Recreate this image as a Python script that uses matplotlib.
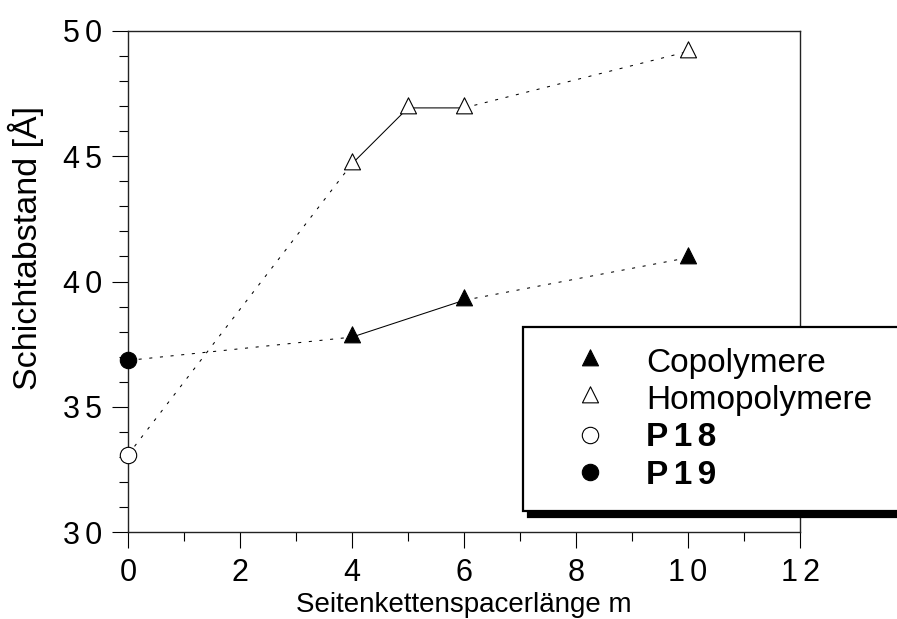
import matplotlib
matplotlib.use("Agg")
import matplotlib.pyplot as plt
from matplotlib.lines import Line2D
from matplotlib.path import Path

plt.rcParams['font.family'] = ['Liberation Sans', 'DejaVu Sans']
plt.rcParams['lines.scale_dashes'] = False

# Side-chain spacer length m and measured layer spacing (Å)
copo_m = [4, 6, 10]
copo_d = [37.78, 39.25, 40.95]
homo_m = [4, 5, 6, 10]
homo_d = [44.7, 46.93, 46.93, 49.18]
p18_m = [0]
p18_d = [33.08]
p19_m = [0]
p19_d = [36.85]

x_ticks = [0, 2, 4, 6, 8, 10, 12]
y_ticks = [30, 35, 40, 45, 50]
legend_labels = ['Copolymere', 'Homopolymere', 'P18', 'P19']

SP = '\u2006'


def spaced(s):
    return SP.join(s)


# triangle centred on its centroid
tri = Path([(0, 2 / 3), (-0.5, -1 / 3), (0.5, -1 / 3), (0, 2 / 3)],
           [Path.MOVETO, Path.LINETO, Path.LINETO, Path.CLOSEPOLY])

W, H = 897, 619
fig = plt.figure(figsize=(W / 100, H / 100), dpi=100)
ax = fig.add_axes([128 / W, 1 - 532 / H, 672 / W, 501 / H])

lw = 0.75
dash = (0, (2.2, 5.5))
k = 'black'

# connecting lines
ax.plot(copo_m[:2], copo_d[:2], '-', color=k, lw=lw, zorder=2)
ax.plot(copo_m[1:], copo_d[1:], linestyle=dash, color=k, lw=lw, zorder=2)
ax.plot(homo_m[:3], homo_d[:3], '-', color=k, lw=lw, zorder=2)
ax.plot(homo_m[2:], homo_d[2:], linestyle=dash, color=k, lw=lw, zorder=2)
ax.plot([p19_m[0], copo_m[0]], [p19_d[0], copo_d[0]], linestyle=dash,
        color=k, lw=lw, zorder=2)
ax.plot([p18_m[0], homo_m[0]], [p18_d[0], homo_d[0]], linestyle=dash,
        color=k, lw=lw, zorder=2)

tri_ms = 15.4
circ_ms = 11.8
mk = dict(ls='none', clip_on=False, zorder=4, mew=0.8, mec=k)
ax.plot(copo_m, copo_d, marker=tri, ms=tri_ms, mfc=k, **mk)
ax.plot(homo_m, homo_d, marker=tri, ms=tri_ms, mfc='white', **mk)
ax.plot(p18_m, p18_d, marker='o', ms=circ_ms, mfc='white', **mk)
ax.plot(p19_m, p19_d, marker='o', ms=circ_ms, mfc=k, **mk)

ax.set_xlim(0, 12)
ax.set_ylim(30, 50)
ax.set_xticks(x_ticks)
ax.set_xticklabels([spaced(str(t)) for t in x_ticks])
ax.set_yticks(y_ticks)
ax.set_yticklabels([spaced(str(t)) for t in y_ticks])
ax.set_xticks(range(1, 12, 2), minor=True)
ax.set_yticks([v for v in range(30, 51) if v % 5], minor=True)

ax.tick_params(which='major', direction='out', length=11.5, width=0.8,
               labelsize=22, pad=7, top=False, right=False)
ax.tick_params(which='minor', direction='out', length=6.5, width=0.8,
               top=False, right=False)
for s in ax.spines.values():
    s.set_linewidth(1.0)
    s.set_color('#222222')

ax.set_ylabel('Schichtabstand [Å]', fontsize=24.5)
ax.yaxis.set_label_coords(-0.125, 0.566)
ax.set_xlabel('Seitenkettenspacerlänge m', fontsize=20, va='baseline')
ax.xaxis.set_label_coords(0.5, -0.1597)

handles = [
    Line2D([], [], ls='none', marker=tri, ms=tri_ms, mfc=k, mec=k, mew=0.8),
    Line2D([], [], ls='none', marker=tri, ms=tri_ms, mfc='white', mec=k, mew=0.8),
    Line2D([], [], ls='none', marker='o', ms=circ_ms, mfc='white', mec=k, mew=0.8),
    Line2D([], [], ls='none', marker='o', ms=circ_ms, mfc=k, mec=k, mew=0.8),
]
labels = [legend_labels[0], legend_labels[1],
          spaced(legend_labels[2]), spaced(legend_labels[3])]
leg = ax.legend(handles, labels, loc='upper left',
                bbox_to_anchor=(523 / W, 1 - 508 / H, 420 / W, 181 / H),
                bbox_transform=fig.transFigure, mode='expand',
                fontsize=24, borderpad=0.62, handlelength=2.75,
                handletextpad=0.32, labelspacing=0.19, borderaxespad=0,
                numpoints=1, fancybox=False, framealpha=1,
                edgecolor=k, facecolor='white',
                shadow={'facecolor': k, 'edgecolor': k, 'alpha': 1,
                        'ox': 3.5, 'oy': -4.3})
leg.get_frame().set_linewidth(1.6)
for t in leg.get_texts()[2:]:
    t.set_fontweight('bold')

fig.savefig('out.png', dpi=100)
